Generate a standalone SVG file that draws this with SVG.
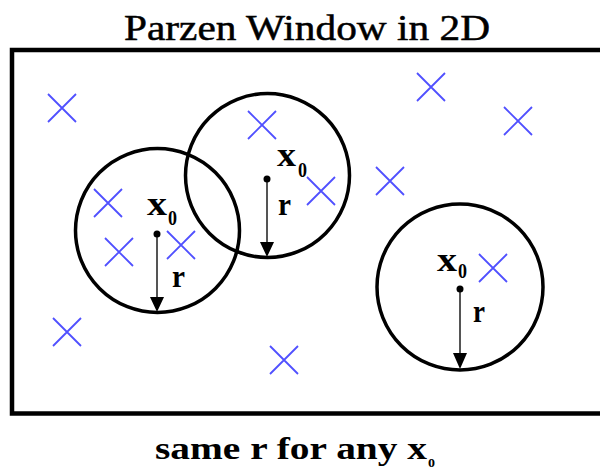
<svg xmlns="http://www.w3.org/2000/svg" width="600" height="471" viewBox="0 0 600 471">
<defs>
<style>
.cross{stroke:#5050ff;stroke-width:1.8;fill:none}
.win{stroke:#000;stroke-width:3.5;fill:none}
.rad{stroke:#555;stroke-width:2}
.head{fill:#000}
.lbl{font-family:"Liberation Serif","Times New Roman",serif;font-weight:bold;fill:#000}
.title{font-family:"Liberation Serif","Times New Roman",serif;fill:#000;stroke:#000;stroke-width:0.5}
</style>
<path id="x" d="M-14,-14L14,14M-14,14L14,-14"/>
</defs>
<rect width="600" height="471" fill="#fff"/>
<text class="title" x="124" y="40" font-size="36" textLength="366" lengthAdjust="spacingAndGlyphs">Parzen Window in 2D</text>
<rect x="12" y="50" width="600" height="363.5" fill="none" stroke="#000" stroke-width="4.5"/>
<g id="points">
<use href="#x" class="cross" x="62" y="108"/>
<use href="#x" class="cross" x="262" y="125"/>
<use href="#x" class="cross" x="431" y="87"/>
<use href="#x" class="cross" x="518" y="121"/>
<use href="#x" class="cross" x="390" y="181"/>
<use href="#x" class="cross" x="321" y="191"/>
<use href="#x" class="cross" x="108" y="203"/>
<use href="#x" class="cross" x="119" y="252"/>
<use href="#x" class="cross" x="181" y="245"/>
<use href="#x" class="cross" x="67" y="332"/>
<use href="#x" class="cross" x="284" y="360"/>
<use href="#x" class="cross" x="493" y="268"/>
</g>
<g id="window-left">
<circle class="win" cx="157.5" cy="230.5" r="82"/>
<text class="lbl" x="147" y="215" font-size="34" textLength="20" lengthAdjust="spacingAndGlyphs">x</text>
<text class="lbl" x="168" y="225" font-size="20" textLength="9" lengthAdjust="spacingAndGlyphs">0</text>
<text class="lbl" x="172" y="287" font-size="32" textLength="13" lengthAdjust="spacingAndGlyphs">r</text>
</g>
<g id="window-middle">
<circle class="win" cx="267.5" cy="175.5" r="82"/>
<text class="lbl" x="277" y="166" font-size="34" textLength="19" lengthAdjust="spacingAndGlyphs">x</text>
<text class="lbl" x="298" y="177" font-size="20" textLength="9" lengthAdjust="spacingAndGlyphs">0</text>
<text class="lbl" x="278" y="215" font-size="32" textLength="13" lengthAdjust="spacingAndGlyphs">r</text>
</g>
<g id="window-right">
<circle class="win" cx="460" cy="287" r="83"/>
<text class="lbl" x="437" y="271" font-size="34" textLength="20" lengthAdjust="spacingAndGlyphs">x</text>
<text class="lbl" x="458" y="278" font-size="20" textLength="9" lengthAdjust="spacingAndGlyphs">0</text>
<text class="lbl" x="473" y="322" font-size="32" textLength="12" lengthAdjust="spacingAndGlyphs">r</text>
</g>
<g id="connectors">
<line class="rad" x1="157" y1="234" x2="157" y2="298"/>
<circle cx="157" cy="234" r="3.5"/>
<polygon class="head" points="150,297 164,297 157,312"/>
<line class="rad" x1="267" y1="179" x2="267" y2="243"/>
<circle cx="267" cy="179" r="3.5"/>
<polygon class="head" points="260,242 274,242 267,257"/>
<line class="rad" x1="460" y1="289" x2="460" y2="354"/>
<circle cx="460" cy="289" r="3.5"/>
<polygon class="head" points="453,353 467,353 460,369"/>
</g>
<text class="lbl" x="155" y="459" font-size="31" textLength="272" lengthAdjust="spacingAndGlyphs">same r for any x</text>
<text class="lbl" x="428" y="467" font-size="13" textLength="7" lengthAdjust="spacingAndGlyphs">0</text>
</svg>
